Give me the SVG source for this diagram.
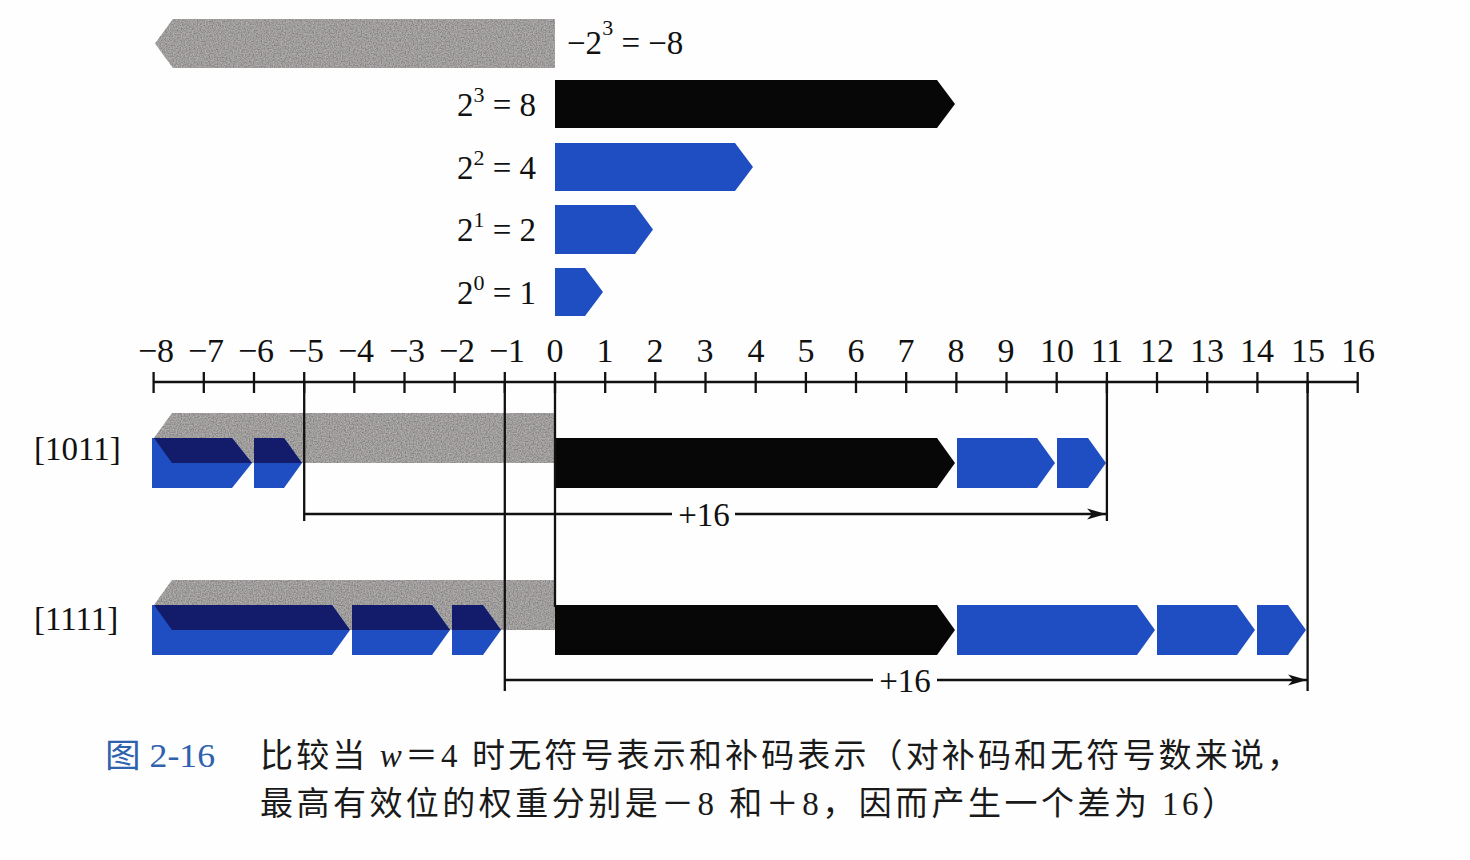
<svg xmlns="http://www.w3.org/2000/svg" width="1470" height="860" viewBox="0 0 1470 860">
<style>
  .t{font-family:"Liberation Serif","Times New Roman",serif;font-size:33px;fill:#111}
  .ax{font-size:34px}
  .sup{font-size:22px}
  .gray{fill:#b4b0b0;filter:url(#grain)}
  .blue{fill:#1e4ec2}
  .navy{fill:#121c6a}
  .black{fill:#070707}
  .ln{stroke:#111;stroke-width:2.3;fill:none}
  .cap{font-family:"Liberation Serif","Noto Sans CJK SC",serif;font-size:33px;fill:#1a1a1a}
</style>
<defs>
  <filter id="grain" x="0" y="0" width="100%" height="100%">
    <feTurbulence type="fractalNoise" baseFrequency="0.75" numOctaves="1" seed="4" result="n"/>
    <feColorMatrix in="n" type="matrix" values="0 0 0 0 0.22  0 0 0 0 0.21  0 0 0 0 0.21  2.4 0 0 0 -0.75" result="d"/>
    <feComposite in="d" in2="SourceGraphic" operator="in" result="dm"/>
    <feMerge><feMergeNode in="SourceGraphic"/><feMergeNode in="dm"/></feMerge>
  </filter>
  <marker id="ah" markerUnits="userSpaceOnUse" markerWidth="20" markerHeight="12" refX="19" refY="6" orient="auto">
    <path d="M0,0.5 L19,6 L0,11.5 L5,6 Z" fill="#111"/>
  </marker>
</defs>
<rect width="1470" height="860" fill="#fefefe"/>

<!-- top weight bars -->
<g id="w-neg8">
  <path class="gray" d="M555,19 H173 L155,43.5 L173,68 H555 Z"/>
  <text class="t" x="567" y="54">−2<tspan class="sup" dy="-19">3</tspan><tspan dy="19"> = −8</tspan></text>
</g>
<g id="w-8">
  <path class="black" d="M555,80 H937 L955,104 L937,128 H555 Z"/>
  <text class="t" x="536" y="116" text-anchor="end">2<tspan class="sup" dy="-14">3</tspan><tspan dy="14"> = 8</tspan></text>
</g>
<g id="w-4">
  <path class="blue" d="M555,143 H735 L753,167 L735,191 H555 Z"/>
  <text class="t" x="536" y="179" text-anchor="end">2<tspan class="sup" dy="-14">2</tspan><tspan dy="14"> = 4</tspan></text>
</g>
<g id="w-2">
  <path class="blue" d="M555,205 H635 L653,229.5 L635,254 H555 Z"/>
  <text class="t" x="536" y="241" text-anchor="end">2<tspan class="sup" dy="-14">1</tspan><tspan dy="14"> = 2</tspan></text>
</g>
<g id="w-1">
  <path class="blue" d="M555,268 H585 L603,292 L585,316 H555 Z"/>
  <text class="t" x="536" y="304" text-anchor="end">2<tspan class="sup" dy="-14">0</tspan><tspan dy="14"> = 1</tspan></text>
</g>

<!-- axis -->
<g id="axis">
  <line class="ln" x1="153.6" y1="382" x2="1357.7" y2="382"/>
  <path class="ln" d="M153.6,372V393 M203.8,372V393 M254,372V393 M304.2,372V393 M354.3,372V393 M404.5,372V393 M454.7,372V393 M504.8,372V393 M555,372V393 M605.2,372V393 M655.3,372V393 M705.5,372V393 M755.7,372V393 M805.9,372V393 M856,372V393 M906.2,372V393 M956.4,372V393 M1006.5,372V393 M1056.7,372V393 M1106.9,372V393 M1157,372V393 M1207.2,372V393 M1257.4,372V393 M1307.6,372V393 M1357.7,372V393"/>
  <g class="t ax" text-anchor="middle">
    <text x="156" y="362">−8</text>
    <text x="206" y="362">−7</text>
    <text x="256" y="362">−6</text>
    <text x="306" y="362">−5</text>
    <text x="356" y="362">−4</text>
    <text x="407" y="362">−3</text>
    <text x="457" y="362">−2</text>
    <text x="507" y="362">−1</text>
    <text x="555" y="362">0</text>
    <text x="605" y="362">1</text>
    <text x="655" y="362">2</text>
    <text x="705" y="362">3</text>
    <text x="756" y="362">4</text>
    <text x="806" y="362">5</text>
    <text x="856" y="362">6</text>
    <text x="906" y="362">7</text>
    <text x="956" y="362">8</text>
    <text x="1006" y="362">9</text>
    <text x="1057" y="362">10</text>
    <text x="1107" y="362">11</text>
    <text x="1157" y="362">12</text>
    <text x="1207" y="362">13</text>
    <text x="1257" y="362">14</text>
    <text x="1308" y="362">15</text>
    <text x="1358" y="362">16</text>
  </g>
</g>

<!-- row [1011] -->
<g id="row-1011">
  <text class="t" x="34" y="460">[1011]</text>
  <path class="gray" d="M555,413 H172 L154,438 L172,463 H555 Z"/>
  <path class="blue" d="M152,438 H232 L252,463 L232,488 H152 Z"/>
  <path class="blue" d="M254,438 H284 L302,463 L284,488 H254 Z"/>
  <path class="navy" d="M154,438 H232 L252,463 H172 Z"/>
  <path class="navy" d="M254,438 H284 L302,463 H254 Z"/>
  <path class="black" d="M555,438 H937 L955,463 L937,488 H555 Z"/>
  <path class="blue" d="M957,438 H1037 L1055,463 L1037,488 H957 Z"/>
  <path class="blue" d="M1057,438 H1088 L1106,463 L1088,488 H1057 Z"/>
</g>

<!-- row [1111] -->
<g id="row-1111">
  <text class="t" x="34" y="630">[1111]</text>
  <path class="gray" d="M555,580 H172 L154,605 L172,630 H555 Z"/>
  <path class="blue" d="M152,605 H332 L350,630 L332,655 H152 Z"/>
  <path class="blue" d="M352,605 H432 L450,630 L432,655 H352 Z"/>
  <path class="blue" d="M452,605 H483 L501,630 L483,655 H452 Z"/>
  <path class="navy" d="M154,605 H332 L350,630 H172 Z"/>
  <path class="navy" d="M352,605 H432 L450,630 H352 Z"/>
  <path class="navy" d="M452,605 H483 L501,630 H452 Z"/>
  <path class="black" d="M555,605 H937 L955,630 L937,655 H555 Z"/>
  <path class="blue" d="M957,605 H1137 L1155,630 L1137,655 H957 Z"/>
  <path class="blue" d="M1157,605 H1237 L1255,630 L1237,655 H1157 Z"/>
  <path class="blue" d="M1257,605 H1288 L1306,630 L1288,655 H1257 Z"/>
</g>

<!-- connectors -->
<g id="connectors">
  <path class="ln" d="M304.2,382 V521 M555,382 V607 M504.8,382 V691 M1106.9,382 V521 M1307.6,382 V691"/>
  <path class="ln" d="M304.2,514 H672"/>
  <path class="ln" d="M735,514 H1106" marker-end="url(#ah)"/>
  <text class="t" x="704" y="526" text-anchor="middle">+16</text>
  <path class="ln" d="M504.8,680 H873"/>
  <path class="ln" d="M937,680 H1307" marker-end="url(#ah)"/>
  <text class="t" x="905" y="692" text-anchor="middle">+16</text>
</g>

<!-- caption -->
<g id="caption">
  <text class="cap" x="105" y="767" textLength="110" lengthAdjust="spacingAndGlyphs" style="fill:#2f62ad">图 2-16</text>
  <text class="cap" x="260" y="767" textLength="1040" lengthAdjust="spacing">比较当 <tspan font-style="italic">w</tspan>＝4 时无符号表示和补码表示（对补码和无符号数来说，</text>
  <text class="cap" x="260" y="815" textLength="975" lengthAdjust="spacing">最高有效位的权重分别是－8 和＋8，因而产生一个差为 16）</text>
</g>
</svg>
